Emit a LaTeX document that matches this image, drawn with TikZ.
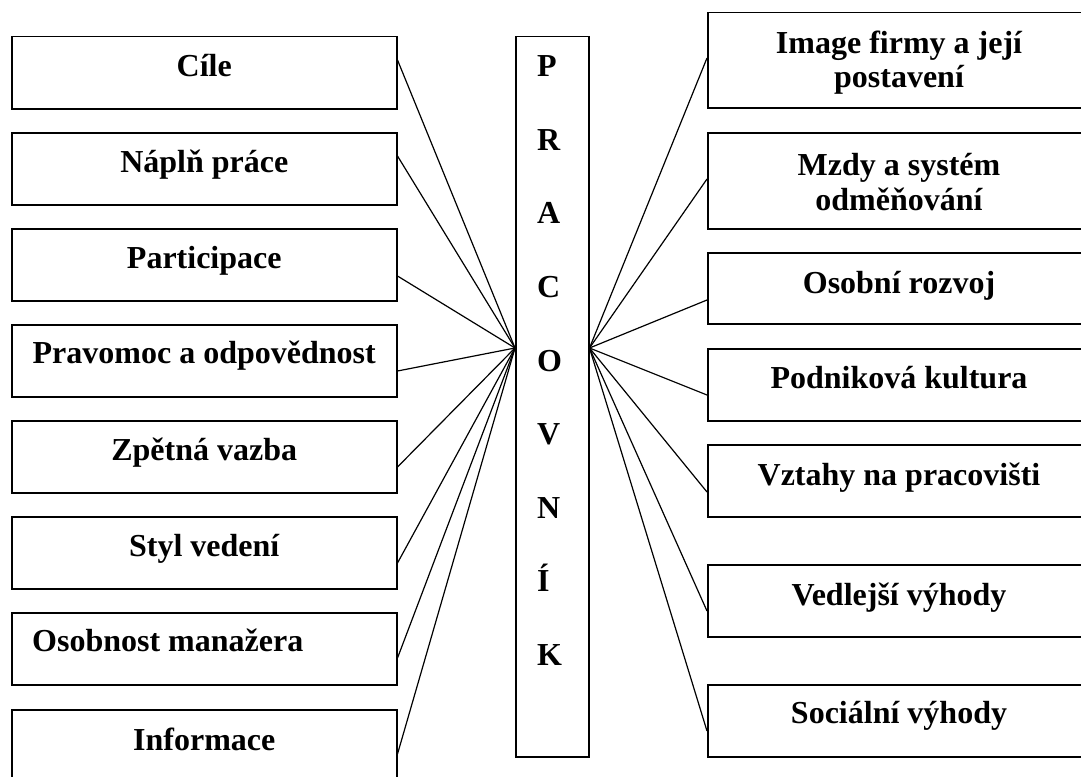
\documentclass[tikz,border=0pt]{standalone}
\usepackage{fontspec}
\setmainfont{Liberation Serif}
\usetikzlibrary{calc}
\begin{document}
\begin{tikzpicture}[x=1pt,y=-1pt,
  box/.style={draw, line width=1.5pt, rectangle, inner sep=0pt, anchor=north west},
  lbox/.style={box, minimum width=385pt, minimum height=72pt},
  rbox/.style={box, minimum width=384pt, minimum height=72pt},
  lbl/.style={font=\fontsize{32}{35}\selectfont\bfseries, inner sep=0pt, anchor=base, align=center},
  link/.style={line width=1.2pt}]
\useasboundingbox (0,0) rectangle (1081,776);
\clip (0,0) rectangle (1081,776);
\fill[white] (0,0) rectangle (1081,776);

% central column
\node[box, minimum width=73pt, minimum height=720pt] (prac) at (515,36) {};
\foreach \l [count=\i from 0] in {P,R,A,C,O,V,N,Í,K}
  \node[lbl, anchor=base west] (ch\i) at (537,76.7+73.6*\i) {\l};
\coordinate (hubL) at ($(prac.north west)+(0,312)$);
\coordinate (hubR) at ($(prac.north east)+(0,312)$);

% left column: name / top / connector offset
\foreach \n/\t/\c in {cile/36/24, napln/132/24, partic/228/48, pravo/324/47,
                      zpet/420/47, styl/516/47, osob/612/46, info/709/45} {
  \node[lbox] (\n) at (11,\t) {};
  \coordinate (\n-p) at ($(\n.north east)+(0,\c)$);
  \draw[link] (\n-p) -- (hubL);
}
\node[lbl] (cile-t)   at ($(cile.north)+(0,40.5)$)   {Cíle};
\node[lbl] (napln-t)  at ($(napln.north)+(0,40.5)$)  {Náplň práce};
\node[lbl] (partic-t) at ($(partic.north)+(0,40)$)   {Participace};
\node[lbl] (pravo-t)  at ($(pravo.north)+(0,39)$)    {Pravomoc a odpovědnost};
\node[lbl] (zpet-t)   at ($(zpet.north)+(0,40)$)     {Zpětná vazba};
\node[lbl] (styl-t)   at ($(styl.north)+(0,40.5)$)   {Styl vedení};
\node[lbl, anchor=base west] (osob-t) at ($(osob.north west)+(21,39.5)$) {Osobnost manažera};
\node[lbl] (info-t)   at ($(info.north)+(0,41)$)     {Informace};

% right column: name / top / height / connector offset
\foreach \n/\t/\h/\c in {image/12/95/46, mzdy/132/96/47, rozvoj/252/71/48,
                         kult/348/72/47, vztahy/444/72/48, vedl/564/72/47, soc/684/72/47} {
  \node[rbox, minimum height=\h pt] (\n) at (707,\t) {};
  \coordinate (\n-p) at ($(\n.north west)+(0,\c)$);
  \draw[link] (hubR) -- (\n-p);
}
% two-line labels: the base anchor sits on the last line
\node[lbl] (image-t)  at (899,88)  {Image firmy a její\\postavení};
\node[lbl] (mzdy-t)   at (899,210) {Mzdy a systém\\odměňování};
\node[lbl] (rozvoj-t) at ($(rozvoj.north west)+(192,41)$) {Osobní rozvoj};
\node[lbl] (kult-t)   at ($(kult.north west)+(192,40)$)   {Podniková kultura};
\node[lbl] (vztahy-t) at ($(vztahy.north west)+(192,41)$) {Vztahy na pracovišti};
\node[lbl] (vedl-t)   at ($(vedl.north west)+(192,41)$)   {Vedlejší výhody};
\node[lbl] (soc-t)    at ($(soc.north west)+(192,39)$)    {Sociální výhody};
\end{tikzpicture}
\end{document}
